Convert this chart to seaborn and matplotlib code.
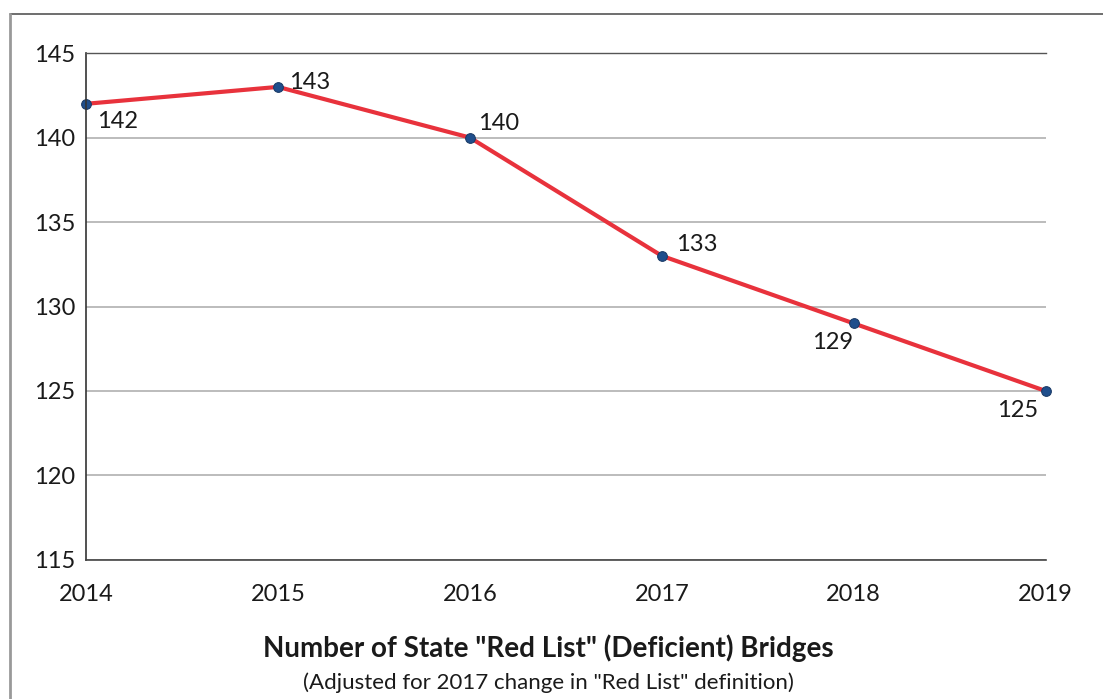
import matplotlib
matplotlib.use("Agg")
import matplotlib.pyplot as plt
import seaborn as sns
import pandas as pd
from matplotlib.lines import Line2D

years = ["2014", "2015", "2016", "2017", "2018", "2019"]
bridges = [142, 143, 140, 133, 129, 125]
yticks = [115, 120, 125, 130, 135, 140, 145]
# label offsets in points (dx, dy)
label_offsets = [(8, -13), (8, 3), (6, 10), (10, 8), (-30, -14), (-35, -14)]

sns.set_style("white")
plt.rcParams['font.family'] = ['Lato', 'DejaVu Sans']

df = pd.DataFrame({"year": years, "bridges": bridges})

fig = plt.figure(figsize=(11.03, 6.99), dpi=100)
ax = fig.add_axes([0.078, 0.199, 0.870, 0.725])

sns.lineplot(data=df, x="year", y="bridges", ax=ax, color="#e8323c",
             linewidth=3, marker="o", markersize=7,
             markerfacecolor="#1f4e8c", markeredgecolor="#1a3a66", sort=False,
             clip_on=False)

ax.set_xlim(0, len(years) - 1)
ax.set_ylim(115, 145)
ax.set_yticks(yticks)
ax.set_yticklabels([str(t) for t in yticks])
ax.set_xlabel("")
ax.set_ylabel("")

ax.grid(axis="y", color="#b0b0b0", linewidth=1.2)
ax.grid(axis="x", visible=False)
ax.spines["right"].set_visible(False)
ax.spines["top"].set_color("#555555")
ax.spines["left"].set_color("#333333")
ax.spines["bottom"].set_color("#444444")
ax.spines["left"].set_linewidth(1.2)
ax.spines["bottom"].set_linewidth(1.2)
ax.spines["top"].set_linewidth(1.0)

ax.tick_params(axis="y", direction="out", length=5, color="#333333", labelsize=17, pad=3)
ax.tick_params(axis="x", direction="inout", length=10, color="#333333", labelsize=17, pad=12)
for lbl in ax.get_xticklabels() + ax.get_yticklabels():
    lbl.set_color("#1a1a1a")

for i, (v, (dx, dy)) in enumerate(zip(bridges, label_offsets)):
    ax.annotate(str(v), xy=(i, v), xytext=(dx, dy), textcoords="offset points",
                ha="left", va="center", fontsize=17, color="#1a1a1a")

fig.text(0.497, 0.073, 'Number of State "Red List" (Deficient) Bridges',
         ha="center", va="center", fontsize=20, fontweight="bold", color="#1a1a1a")
fig.text(0.497, 0.024, '(Adjusted for 2017 change in "Red List" definition)',
         ha="center", va="center", fontsize=16, color="#1a1a1a")

# scanned page frame edges
fig.add_artist(Line2D([10 / 1103, 1.0], [1 - 14 / 699, 1 - 14 / 699],
                      transform=fig.transFigure, color="#555555", linewidth=1.2))
fig.add_artist(Line2D([10 / 1103, 10 / 1103], [0.0, 1 - 14 / 699],
                      transform=fig.transFigure, color="#999999", linewidth=2))

fig.savefig("out.png", dpi=100)
